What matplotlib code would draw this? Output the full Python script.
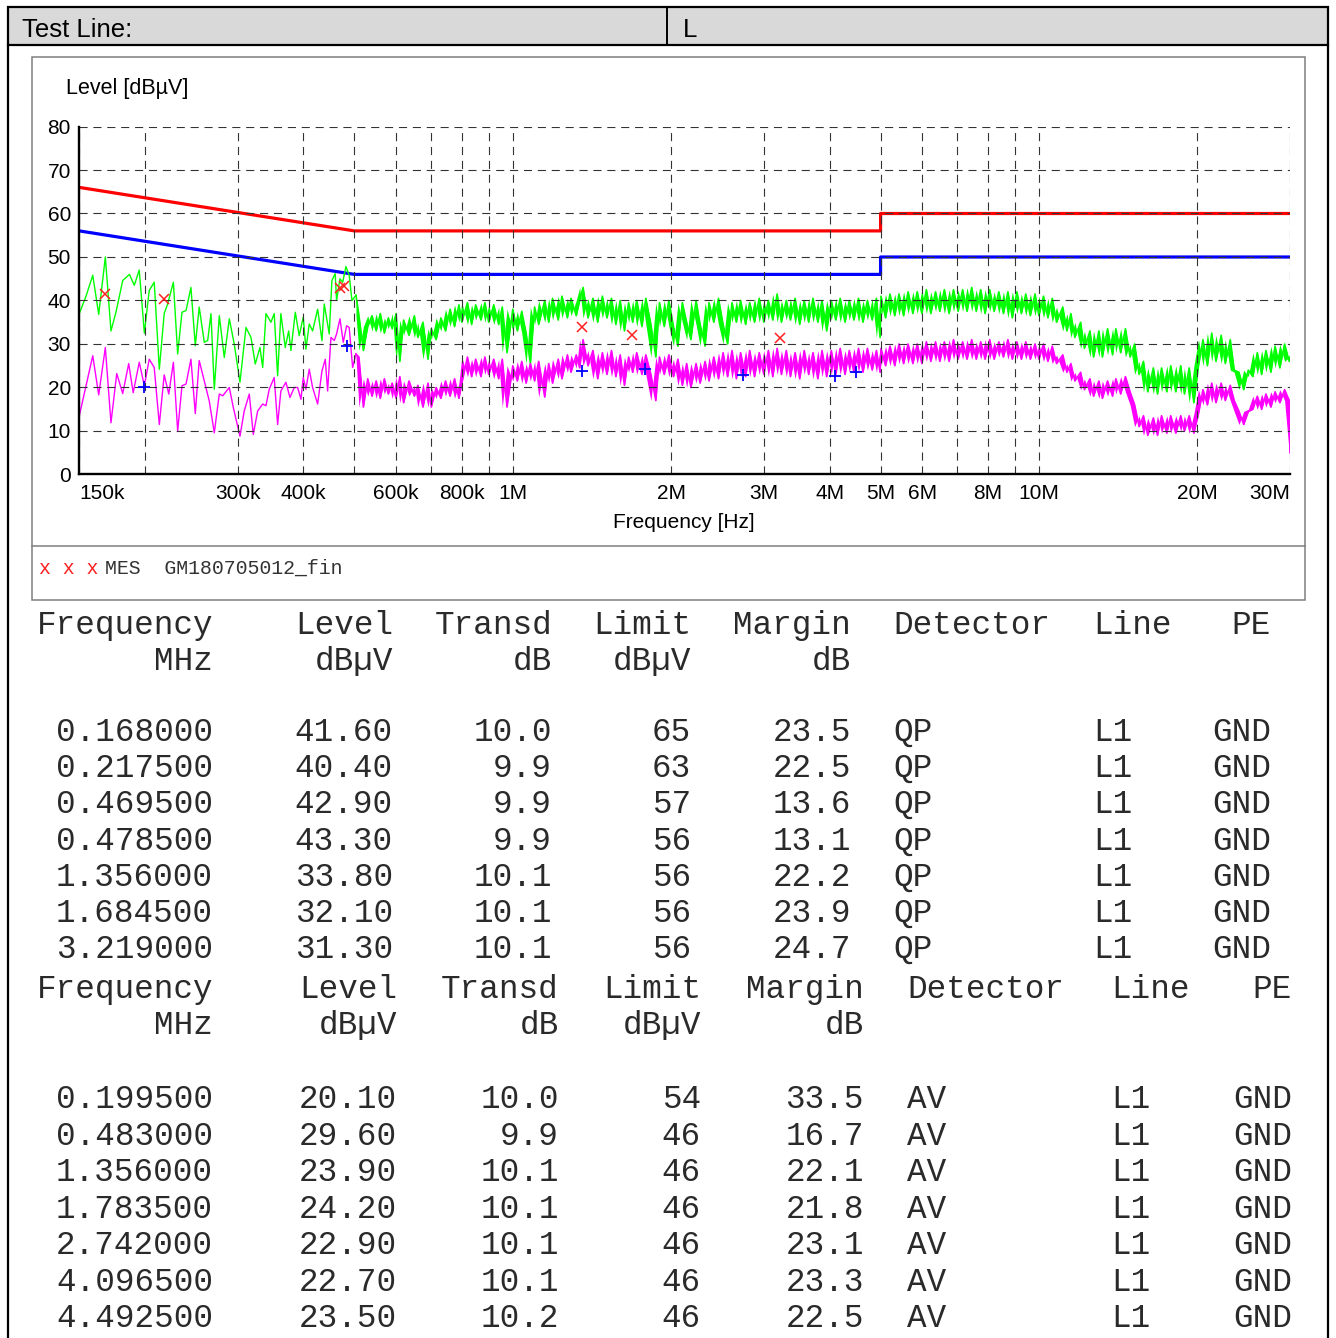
import matplotlib
matplotlib.use("Agg")
import matplotlib.pyplot as plt
from matplotlib.patches import Rectangle
from matplotlib.lines import Line2D
from matplotlib.ticker import NullFormatter

plt.rcParams['font.family'] = ['Liberation Sans', 'DejaVu Sans']

W, H = 1336, 1338

# --- spectrum traces ---
# sparse part of the sweep, kHz
qp_lo_khz = [150, 154.5, 159.1, 163.3, 168.1, 172.3, 176.1, 181.4, 186.8, 190.8,
             195, 199.4, 203.7, 208.2, 212.9, 217.5, 220.8, 226.4, 230.7, 235.1,
             239.3, 244.5, 249.2, 253.5, 259.2, 263.1, 266.9, 270.8, 276.8, 282.9,
             289.2, 295.5, 303, 311.1, 318, 324, 330.7, 334.7, 339.5, 347,
             352, 357.3, 362.4, 369.4, 375, 378.7, 386, 392.7, 399.7, 404.4,
             410.3, 416.4, 425.7, 433.8, 438.2, 447.8, 453.1, 459.6, 462.5, 469.3,
             475, 481.8, 488.7, 494.6, 503.4]
qp_lo_level = [37, 41, 45.8, 36.8, 50, 33, 37.3, 44.6, 46, 43.5,
               47, 32.5, 42.3, 44.2, 24.2, 37, 39.2, 44.2, 27.7, 37.3,
               37.7, 43, 29.6, 38.5, 30.4, 30.8, 37, 19.6, 36.5, 26.9,
               35.8, 30, 21.2, 33.8, 31.5, 25.4, 29.2, 24.6, 37, 35,
               37, 22.7, 37, 29.2, 33, 28.5, 37.3, 31.9, 36.2, 28.8,
               34.6, 33, 38, 30.8, 39.2, 32.3, 44.6, 46.2, 40, 45,
               44.2, 47.8, 45.8, 40, 41.2]

av_lo_khz = [150, 159.1, 163.3, 168.1, 172.3, 176.7, 181.4, 186.2, 189.9, 195,
             199.4, 203.7, 208.2, 212.9, 217.5, 221.9, 226.4, 230.7, 235.1, 239.3,
             244.5, 249.2, 253.5, 259.2, 264.9, 270.8, 276.8, 281, 289.2, 294.3,
             303, 308.7, 315.6, 321.2, 327.4, 334.7, 339.5, 344.4, 352, 357.3,
             362.4, 370.5, 377.1, 384.3, 390, 395.7, 399.7, 404.4, 410.3, 416.4,
             425.7, 433.8, 440.1, 444.7, 451.2, 457.8, 462.5, 469.3, 476.2, 483.3,
             488.7, 496.1, 503.4]
av_lo_level = [13.5, 27.3, 18.3, 29.2, 11.9, 23.2, 18.6, 25.5, 18.8, 25.8,
               20.4, 26.5, 24.6, 11.5, 22.9, 18.5, 25.8, 10, 20.4, 20.8,
               26.5, 14, 26.2, 21.5, 16.9, 9.6, 18.5, 18.1, 20, 15.4,
               8.8, 14.6, 18.5, 9.2, 14.6, 16.2, 15.8, 19.6, 22.3, 11.5,
               19.2, 21.2, 17.7, 20, 20, 17.3, 22.3, 19.6, 24.2, 20,
               16.2, 23.8, 26.5, 19.2, 31.5, 30.8, 32.3, 35.8, 30.4, 34.2,
               33.8, 24.6, 27.7]

# dense part of the sweep, MHz (shared by both detectors)
hi_mhz = [0.51, 0.52, 0.53, 0.54, 0.55, 0.56, 0.57, 0.58, 0.59, 0.60,
          0.61, 0.62, 0.635, 0.65, 0.66, 0.675, 0.69, 0.70, 0.715, 0.73,
          0.745, 0.76, 0.775, 0.79, 0.80, 0.82, 0.835, 0.85, 0.87, 0.885,
          0.90, 0.92, 0.94, 0.955, 0.975, 1.00, 1.02, 1.04, 1.06, 1.08,
          1.10, 1.12, 1.15, 1.17, 1.19, 1.22, 1.24, 1.27, 1.29, 1.32,
          1.34, 1.36, 1.39, 1.42, 1.45, 1.48, 1.51, 1.54, 1.57, 1.60,
          1.63, 1.66, 1.69, 1.72, 1.76, 1.79, 1.83, 1.87, 1.90, 1.94,
          1.98, 2.02, 2.06, 2.10, 2.14, 2.18, 2.23, 2.27, 2.32, 2.36,
          2.41, 2.46, 2.51, 2.56, 2.61, 2.66, 2.71, 2.77, 2.82, 2.88,
          2.94, 3.00, 3.06, 3.12, 3.18, 3.24, 3.31, 3.37, 3.44, 3.51,
          3.58, 3.65, 3.72, 3.80, 3.87, 3.95, 4.03, 4.11, 4.19, 4.28,
          4.36, 4.45, 4.54, 4.63, 4.72, 4.82, 4.91, 4.99, 5.01, 5.11,
          5.21, 5.32, 5.42, 5.53, 5.64, 5.76, 5.87, 5.99, 6.11, 6.23,
          6.36, 6.48, 6.61, 6.75, 6.88, 7.02, 7.16, 7.30, 7.45, 7.60,
          7.75, 7.90, 8.06, 8.22, 8.39, 8.56, 8.73, 8.90, 9.08, 9.26,
          9.44, 9.63, 9.83, 10.0, 10.2, 10.4, 10.6, 10.8, 11.1, 11.3,
          11.5, 11.7, 12.0, 12.2, 12.5, 12.7, 13.0, 13.2, 13.5, 13.8,
          14.0, 14.3, 14.6, 14.9, 15.2, 15.5, 15.8, 16.1, 16.5, 16.8,
          17.1, 17.5, 17.8, 18.2, 18.6, 18.9, 19.3, 19.7, 20.1, 20.5,
          20.9, 21.3, 21.7, 22.2, 22.6, 23.1, 23.5, 24.0, 24.5, 25.0,
          25.5, 26.0, 26.5, 27.0, 27.6, 28.1, 28.7, 29.3, 29.9, 30.0]
qp_hi_level = [36.5, 28.5, 34, 36.5, 33, 37, 32.5, 36, 33.5, 37,
               26, 35.5, 32, 36.5, 31.5, 35, 26.5, 33.5, 31, 36,
               33, 38, 34, 39, 35, 39.5, 34.5, 39, 35.5, 39.5,
               35, 39, 34.5, 38.5, 28, 38, 33, 37.5, 32.5, 25.5,
               38.5, 34.5, 40, 35, 40.5, 35.5, 41, 36, 40.5, 36.5,
               40, 43, 36, 40.5, 35, 41, 36, 40.5, 34.5, 40,
               33, 39.5, 35, 40, 34, 40.5, 34.5, 27, 39.5, 34,
               40, 34, 29.5, 39.5, 35, 31, 40, 34.5, 29.5, 39.5,
               35, 40.5, 34.5, 30, 39.5, 35, 40, 34.5, 39.5, 35,
               40.5, 35, 40, 35.5, 41.5, 35, 40, 35.5, 40.5, 34.5,
               40, 35, 40.5, 35, 40, 33, 40, 35.5, 40.5, 35,
               40, 35.5, 40.5, 35, 40, 35.5, 40.5, 31.5, 41, 36,
               41.5, 36.5, 41.5, 36.5, 42, 37, 42, 37, 42.5, 37,
               42, 37.5, 42.5, 37, 42.5, 37.5, 42.5, 37.5, 43, 37.5,
               42.5, 37, 42.5, 37.5, 42, 37, 42, 36, 42, 37,
               41.5, 36.5, 41.5, 36.5, 41, 36, 40.5, 35, 38.5, 33,
               37, 31.5, 35, 29, 33, 27, 33, 27, 33.5, 27.5,
               33.5, 28, 33.5, 27, 30, 23, 26, 19, 24.5, 18.5,
               24.5, 19, 25, 19, 25, 18.5, 24.5, 16.5, 25, 31,
               25, 32.5, 26, 32, 25.5, 31, 24, 23.5, 19.5, 24,
               22.5, 28, 23, 28.5, 23.5, 29.5, 24.5, 30, 26, 27]
av_hi_level = [27, 15.5, 22, 18, 21.5, 17.5, 22, 18.5, 21, 17.5,
               22.5, 16.5, 21.5, 18, 20.5, 15.5, 21, 15.5, 20, 17.5,
               21.5, 18, 22, 17.5, 21, 27, 22.5, 26.5, 22.5, 27,
               23, 26.5, 22, 26.5, 15.5, 25, 21.5, 26, 21, 25.5,
               21.5, 26, 17.8, 25.5, 21, 26.5, 22, 27.5, 23.5, 27.5,
               24.5, 31, 25, 28.5, 22, 28, 23, 28.5, 22.5, 27.5,
               20.5, 27, 23.5, 28, 23, 27.5, 23, 17, 27, 23,
               27.5, 22.5, 26.5, 20.5, 25.5, 20, 25.5, 21, 26, 21.5,
               27, 22, 28, 22.5, 28.5, 22, 28, 22.5, 28.5, 22.5,
               28, 23, 28.5, 22.5, 29, 23, 28.5, 22.5, 28, 22,
               28.5, 23, 28, 22, 28.5, 22.5, 28.5, 23, 29, 23,
               28.5, 23.5, 29, 23.5, 29, 24, 28.5, 23.5, 29, 25,
               29.5, 25, 30, 25.5, 30, 25.5, 30, 25.5, 30.5, 26,
               30.5, 26, 30.5, 26, 31, 26.5, 30.5, 26.5, 31, 26.5,
               30.5, 26.5, 31, 26.5, 30.5, 27, 31, 26.5, 30.5, 26.5,
               30.5, 26.5, 30, 26.5, 30, 26, 29.5, 25.5, 27.5, 23.5,
               25.5, 21.5, 23.5, 19.5, 22, 18, 21.5, 17.5, 21.5, 18,
               22, 18.5, 22.5, 19, 16, 11, 13.5, 9, 13, 9,
               13.5, 9.5, 13.5, 9.5, 13.5, 10, 13.5, 9.5, 14, 19.5,
               16, 21, 16.5, 21, 17, 20.5, 17, 14.5, 11.5, 14.5,
               15, 18, 15, 18.5, 15.5, 19, 16.5, 19.5, 17, 5]

# --- limit lines ---
limit_mhz = [0.15, 0.5, 5, 5, 30]
qp_limit = [66, 56, 56, 60, 60]
av_limit = [56, 46, 46, 50, 50]

# --- final measurement tables ---
qp_tab_freq = [0.168, 0.2175, 0.4695, 0.4785, 1.356, 1.6845, 3.219]
qp_tab_level = [41.6, 40.4, 42.9, 43.3, 33.8, 32.1, 31.3]
qp_tab_transd = [10.0, 9.9, 9.9, 9.9, 10.1, 10.1, 10.1]
qp_tab_limit = [65, 63, 57, 56, 56, 56, 56]
qp_tab_margin = [23.5, 22.5, 13.6, 13.1, 22.2, 23.9, 24.7]

av_tab_freq = [0.1995, 0.483, 1.356, 1.7835, 2.742, 4.0965, 4.4925]
av_tab_level = [20.1, 29.6, 23.9, 24.2, 22.9, 22.7, 23.5]
av_tab_transd = [10.0, 9.9, 10.1, 10.1, 10.1, 10.1, 10.2]
av_tab_limit = [54, 46, 46, 46, 46, 46, 46]
av_tab_margin = [33.5, 16.7, 22.1, 21.8, 23.1, 23.3, 22.5]

major_ticks = [0.15, 0.3, 0.4, 0.6, 0.8, 1, 2, 3, 4, 5, 6, 8, 10, 20, 30]
major_labels = ['150k', '300k', '400k', '600k', '800k', '1M', '2M', '3M', '4M',
                '5M', '6M', '8M', '10M', '20M', '30M']
minor_ticks = [0.2, 0.5, 0.7, 0.9, 7, 9]


def fx(x):
    return x / W


def fy(y):
    return 1 - y / H


fig = plt.figure(figsize=(W / 100, H / 100), dpi=100)

# header bar
fig.add_artist(Rectangle((fx(8), fy(45)), fx(1328) - fx(8), fy(7) - fy(45),
                         transform=fig.transFigure, facecolor='#d9d9d9',
                         edgecolor='black', lw=1.6))
fig.add_artist(Line2D([fx(667), fx(667)], [fy(7), fy(45)], color='black', lw=1.4))
fig.add_artist(Line2D([fx(8), fx(8)], [fy(45), 0], color='black', lw=1.6))
fig.add_artist(Line2D([fx(1328), fx(1328)], [fy(45), 0], color='black', lw=1.6))
fig.text(fx(22), fy(37), 'Test Line:', fontsize=18.5, va='baseline')
fig.text(fx(683), fy(37), 'L', fontsize=18.5, va='baseline')

# chart frame
fig.add_artist(Rectangle((fx(32), fy(600)), fx(1305) - fx(32), fy(57) - fy(600),
                         transform=fig.transFigure, facecolor='none',
                         edgecolor='#7f7f7f', lw=1.1))
fig.add_artist(Line2D([fx(32), fx(1305)], [fy(546), fy(546)], color='#7f7f7f', lw=1.1))

ax = fig.add_axes([fx(79.3), fy(474.5), fx(1290) - fx(79.3), fy(126.5) - fy(474.5)])
ax.set_xscale('log')
ax.set_xlim(0.15, 30)
ax.set_ylim(0, 80)

qp_lo_f = [k / 1000 for k in qp_lo_khz]
av_lo_f = [k / 1000 for k in av_lo_khz]

# everything up to zorder 2.4 sits under the dashed grid (axis zorder 2.5)
ax.plot(limit_mhz, qp_limit, color='#ff0000', lw=2.3, zorder=2.1)
ax.plot(limit_mhz, av_limit, color='#0000ff', lw=2.3, zorder=2.1)

# sparse low end: plain thin trace
ax.plot(qp_lo_f, qp_lo_level, color='#00ff00', lw=1.0, zorder=2.2)
ax.plot(av_lo_f, av_lo_level, color='#ff00ff', lw=1.0, zorder=2.3)

# dense sweep: the trace, with the space between neighbouring samples
# filled so it reads as the solid noise band of the original
qp_f = qp_lo_f[-1:] + hi_mhz
qp_y = qp_lo_level[-1:] + qp_hi_level
av_f = av_lo_f[-1:] + hi_mhz
av_y = av_lo_level[-1:] + av_hi_level
ax.fill_between(qp_f[:-1], qp_y[:-1], qp_y[1:], color='#00ff00', lw=0, zorder=2.2)
ax.plot(qp_f, qp_y, color='#00ff00', lw=1.2, zorder=2.2)
ax.fill_between(av_f[:-1], av_y[:-1], av_y[1:], color='#ff00ff', lw=0, zorder=2.3)
ax.plot(av_f, av_y, color='#ff00ff', lw=1.2, zorder=2.3)

ax.plot(qp_tab_freq, qp_tab_level, 'x', color='#ff2020', ms=7.5, mew=1.1, zorder=7)
ax.plot(av_tab_freq, av_tab_level, '+', color='#0000ff', ms=8, mew=1.3, zorder=7)

ax.set_xticks(major_ticks)
ax.set_xticklabels(major_labels)
ax.set_xticks(minor_ticks, minor=True)
ax.xaxis.set_minor_formatter(NullFormatter())
ax.set_yticks(range(0, 81, 10))
ax.tick_params(which='both', length=0, labelsize=15)
ax.tick_params(axis='x', pad=7)
ax.tick_params(axis='y', pad=6)
xl = ax.get_xticklabels()
xl[0].set_ha('left')
xl[-1].set_ha('right')
ax.set_axisbelow(False)
ax.grid(True, which='both', color='#333333', lw=0.8, linestyle=(0, (7.3, 5.2)))
for s in ['top', 'right']:
    ax.spines[s].set_visible(False)
for s in ['left', 'bottom']:
    ax.spines[s].set_linewidth(1.7)
    ax.spines[s].set_zorder(6)

fig.text(fx(66), fy(94), 'Level [dBµV]', fontsize=15.5, va='baseline')
fig.text(fx(684), fy(528), 'Frequency [Hz]', fontsize=15, ha='center', va='baseline')

mono = 'Liberation Mono'
fig.text(fx(39), fy(568), 'x x x', family=mono, fontsize=14.3, color='#ff2020', va='center')
fig.text(fx(105), fy(568), 'MES  GM180705012_fin', family=mono, fontsize=14.3,
         color='#333333', va='center')


def table(rows_y, head_y, cols, freq, level, transd, limit, margin, det):
    kw = dict(family=mono, fontsize=23.5, color='#2a2a2a', va='baseline')
    fr, lv, tr, lm, mg, dt, ln, pe = cols
    fig.text(fx(fr), fy(head_y[0]), 'Frequency', ha='right', **kw)
    fig.text(fx(lv), fy(head_y[0]), 'Level', ha='right', **kw)
    fig.text(fx(tr), fy(head_y[0]), 'Transd', ha='right', **kw)
    fig.text(fx(lm), fy(head_y[0]), 'Limit', ha='right', **kw)
    fig.text(fx(mg), fy(head_y[0]), 'Margin', ha='right', **kw)
    fig.text(fx(dt), fy(head_y[0]), 'Detector', ha='left', **kw)
    fig.text(fx(ln), fy(head_y[0]), 'Line', ha='left', **kw)
    fig.text(fx(pe), fy(head_y[0]), 'PE', ha='right', **kw)
    fig.text(fx(fr), fy(head_y[1]), 'MHz', ha='right', **kw)
    fig.text(fx(lv), fy(head_y[1]), 'dBµV', ha='right', **kw)
    fig.text(fx(tr), fy(head_y[1]), 'dB', ha='right', **kw)
    fig.text(fx(lm), fy(head_y[1]), 'dBµV', ha='right', **kw)
    fig.text(fx(mg), fy(head_y[1]), 'dB', ha='right', **kw)
    for i, y in enumerate(rows_y):
        fig.text(fx(fr), fy(y), '%.6f' % freq[i], ha='right', **kw)
        fig.text(fx(lv), fy(y), '%.2f' % level[i], ha='right', **kw)
        fig.text(fx(tr), fy(y), '%.1f' % transd[i], ha='right', **kw)
        fig.text(fx(lm), fy(y), '%d' % limit[i], ha='right', **kw)
        fig.text(fx(mg), fy(y), '%.1f' % margin[i], ha='right', **kw)
        fig.text(fx(dt), fy(y), det, ha='left', **kw)
        fig.text(fx(ln), fy(y), 'L1', ha='left', **kw)
        fig.text(fx(pe), fy(y), 'GND', ha='right', **kw)


table([741, 777, 813, 850, 886, 922, 958], [634, 670],
      [213, 393, 552, 691, 851, 893, 1093, 1271],
      qp_tab_freq, qp_tab_level, qp_tab_transd, qp_tab_limit, qp_tab_margin, 'QP')
table([1108, 1145, 1181, 1218, 1254, 1291, 1327], [998, 1034],
      [213, 397, 559, 701, 864, 907, 1111, 1292],
      av_tab_freq, av_tab_level, av_tab_transd, av_tab_limit, av_tab_margin, 'AV')

fig.savefig('out.png', dpi=100)
